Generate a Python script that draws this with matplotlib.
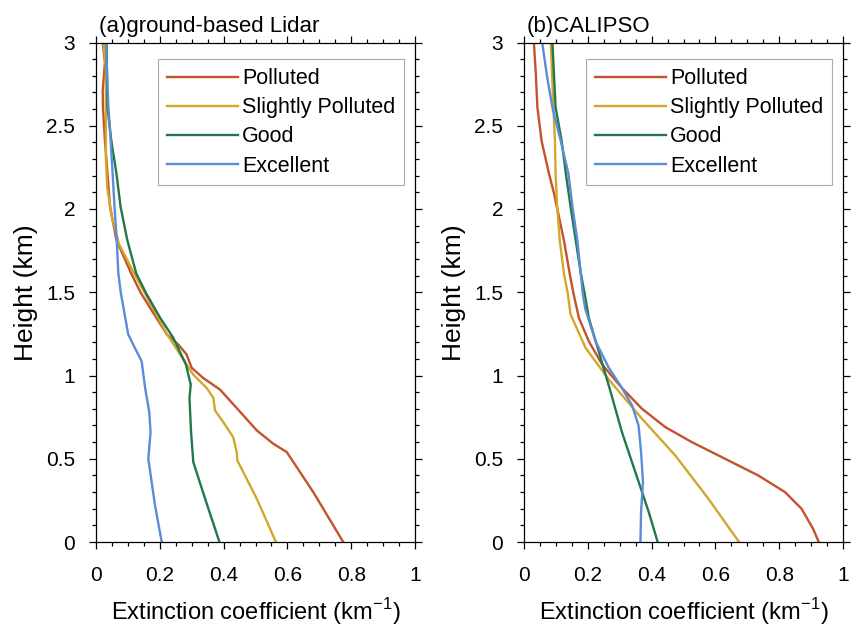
import matplotlib
matplotlib.use("Agg")
import matplotlib.pyplot as plt
from matplotlib.ticker import MultipleLocator, FuncFormatter

# ---------------- data ----------------
series_names = ["Polluted", "Slightly Polluted", "Good", "Excellent"]
colors = ["#C4522A", "#D3A62C", "#22784A", "#5A8CD8"]

# (a) ground-based Lidar
lidar_pol_x = [0.775, 0.681, 0.598, 0.556, 0.504, 0.462, 0.389, 0.336, 0.300, 0.284, 0.258, 0.222, 0.141, 0.110, 0.064, 0.044, 0.036, 0.028, 0.022, 0.021, 0.028, 0.021]
lidar_pol_y = [0.00, 0.30, 0.54, 0.59, 0.67, 0.76, 0.915, 0.985, 1.046, 1.126, 1.186, 1.247, 1.494, 1.614, 1.814, 2.014, 2.215, 2.41, 2.60, 2.71, 2.88, 3.00]

lidar_sp_x = [0.564, 0.504, 0.443, 0.441, 0.430, 0.399, 0.373, 0.368, 0.347, 0.305, 0.284, 0.222, 0.160, 0.115, 0.072, 0.050, 0.035, 0.031, 0.031, 0.031, 0.023]
lidar_sp_y = [0.00, 0.26, 0.49, 0.54, 0.63, 0.72, 0.79, 0.865, 0.925, 1.005, 1.066, 1.25, 1.47, 1.63, 1.79, 1.95, 2.13, 2.30, 2.60, 2.85, 3.00]

lidar_good_x = [0.387, 0.342, 0.305, 0.298, 0.293, 0.297, 0.282, 0.242, 0.201, 0.157, 0.126, 0.098, 0.077, 0.064, 0.048, 0.036, 0.033]
lidar_good_y = [0.00, 0.26, 0.48, 0.66, 0.865, 0.945, 1.066, 1.227, 1.347, 1.494, 1.614, 1.814, 2.014, 2.215, 2.41, 2.61, 3.00]

lidar_exc_x = [0.206, 0.185, 0.164, 0.171, 0.167, 0.154, 0.143, 0.127, 0.101, 0.078, 0.070, 0.065, 0.058, 0.052, 0.046, 0.039, 0.031]
lidar_exc_y = [0.00, 0.22, 0.50, 0.66, 0.78, 0.925, 1.086, 1.146, 1.247, 1.494, 1.614, 1.814, 2.014, 2.215, 2.41, 2.61, 3.00]

# (b) CALIPSO
cal_pol_x = [0.924, 0.906, 0.870, 0.818, 0.734, 0.630, 0.526, 0.443, 0.370, 0.307, 0.245, 0.203, 0.172, 0.155, 0.143, 0.125, 0.110, 0.094, 0.078, 0.055, 0.042, 0.037, 0.031]
cal_pol_y = [0.00, 0.08, 0.20, 0.30, 0.40, 0.50, 0.60, 0.69, 0.80, 0.925, 1.066, 1.206, 1.347, 1.494, 1.614, 1.814, 1.95, 2.094, 2.215, 2.41, 2.61, 2.815, 3.00]

cal_sp_x = [0.674, 0.578, 0.474, 0.370, 0.266, 0.193, 0.146, 0.137, 0.125, 0.112, 0.104, 0.099, 0.097, 0.092, 0.084]
cal_sp_y = [0.00, 0.26, 0.52, 0.74, 0.975, 1.166, 1.367, 1.494, 1.614, 1.814, 2.014, 2.215, 2.41, 2.61, 3.00]

cal_good_x = [0.419, 0.391, 0.349, 0.307, 0.271, 0.234, 0.203, 0.190, 0.178, 0.162, 0.146, 0.131, 0.118, 0.099, 0.089]
cal_good_y = [0.00, 0.18, 0.42, 0.66, 0.905, 1.146, 1.347, 1.494, 1.614, 1.814, 2.014, 2.215, 2.41, 2.61, 3.00]

cal_exc_x = [0.365, 0.367, 0.373, 0.367, 0.359, 0.339, 0.307, 0.266, 0.224, 0.192, 0.184, 0.178, 0.167, 0.152, 0.139, 0.115, 0.089, 0.072, 0.057]
cal_exc_y = [0.00, 0.18, 0.36, 0.54, 0.70, 0.82, 0.925, 1.046, 1.206, 1.40, 1.494, 1.614, 1.814, 2.014, 2.215, 2.41, 2.61, 2.80, 3.00]

panel_titles = ["(a)ground-based Lidar", "(b)CALIPSO"]
x_label = "Extinction coefficient (km$^{-1}$)"
y_label = "Height (km)"

lidar = [(lidar_pol_x, lidar_pol_y), (lidar_sp_x, lidar_sp_y),
         (lidar_good_x, lidar_good_y), (lidar_exc_x, lidar_exc_y)]
calipso = [(cal_pol_x, cal_pol_y), (cal_sp_x, cal_sp_y),
           (cal_good_x, cal_good_y), (cal_exc_x, cal_exc_y)]

# ---------------- figure ----------------
plt.rcParams['font.family'] = ['Liberation Sans', 'DejaVu Sans']
plt.rcParams['mathtext.fontset'] = 'custom'
plt.rcParams['mathtext.rm'] = 'Liberation Sans'

fig = plt.figure(figsize=(8.52, 6.31), dpi=100)
ax_pos = [[96/852, 89/631, 319/852, 499.5/631],
          [524/852, 89/631, 319/852, 499.5/631]]

fmt = FuncFormatter(lambda v, p: f"{v:g}")

for i, data in enumerate([lidar, calipso]):
    ax = fig.add_axes(ax_pos[i])
    for (xs, ys), name, c in zip(data, series_names, colors):
        ax.plot(xs, ys, color=c, lw=1.7, label=name)
    ax.set_xlim(0, 1)
    ax.set_ylim(0, 3)
    ax.xaxis.set_major_locator(MultipleLocator(0.2))
    ax.xaxis.set_minor_locator(MultipleLocator(0.05))
    ax.yaxis.set_major_locator(MultipleLocator(0.5))
    ax.yaxis.set_minor_locator(MultipleLocator(0.1))
    ax.xaxis.set_major_formatter(fmt)
    ax.yaxis.set_major_formatter(fmt)
    ax.tick_params(which='both', direction='out', top=True, right=True,
                   width=0.9, color='black')
    ax.tick_params(which='major', length=5, pad=12, labelsize=15)
    ax.tick_params(axis='y', which='major', pad=10)
    ax.tick_params(which='minor', length=3)
    for s in ax.spines.values():
        s.set_linewidth(0.9)
    ax.set_xlabel(x_label, fontsize=17, labelpad=8)
    ax.set_ylabel(y_label, fontsize=19, labelpad=6)
    ax.text(0.008, 1.012, panel_titles[i], transform=ax.transAxes,
            fontsize=16, ha='left', va='bottom')
    leg = ax.legend(loc='upper right', bbox_to_anchor=(0.965, 0.966),
                    fontsize=15.5, handlelength=3.3, handletextpad=0.2,
                    labelspacing=0.38, borderpad=0.4, fancybox=False,
                    framealpha=1, edgecolor='#AAAAAA', borderaxespad=0,
                    handleheight=0.6)
    leg.get_frame().set_linewidth(0.8)

fig.savefig("out.png", dpi=100)
